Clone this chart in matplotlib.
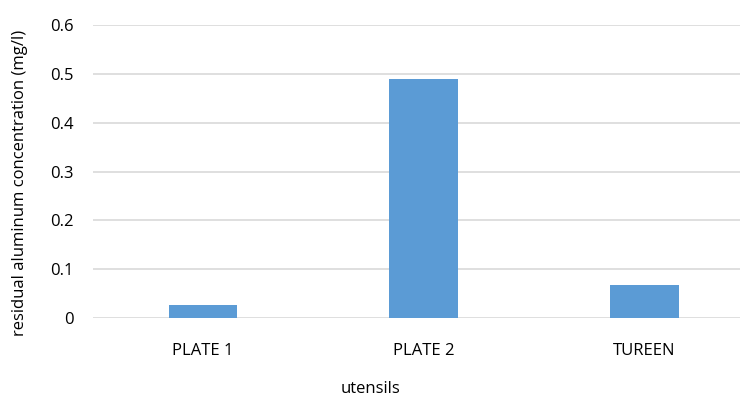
import matplotlib
matplotlib.use("Agg")
import matplotlib.pyplot as plt

categories = ["PLATE 1", "PLATE 2", "TUREEN"]
values = [0.027, 0.49, 0.067]
yticks = [0, 0.1, 0.2, 0.3, 0.4, 0.5, 0.6]
ytick_labels = ["0", "0.1", "0.2", "0.3", "0.4", "0.5", "0.6"]

plt.rcParams["font.family"] = ["Open Sans", "DejaVu Sans"]

fig = plt.figure(figsize=(7.4, 3.98), dpi=100)
ax = fig.add_axes([92.7 / 740, 80 / 398, 662 / 740, 293 / 398])

x = range(len(categories))
ax.bar(x, values, width=0.31, color="#5B9BD5", zorder=3)

ax.set_xlim(-0.5, len(categories) - 0.5)
ax.set_ylim(0, 0.6)
ax.set_yticks(yticks)
ax.set_yticklabels(ytick_labels)
ax.set_xticks(list(x))
ax.set_xticklabels(categories)

ax.grid(axis="y", color="#D9D9D9", linewidth=1.2, zorder=0)
for s in ax.spines.values():
    s.set_visible(False)
ax.tick_params(axis="both", length=0, labelsize=12, colors="#000000")
ax.tick_params(axis="y", pad=14)
ax.tick_params(axis="x", pad=18)

fig.text(370 / 740, 1 - 389 / 398, "utensils", ha="center", va="center", fontsize=12)
fig.text(20 / 740, 1 - 183 / 398, "residual aluminum concentration (mg/l)",
         ha="center", va="center", rotation=90, fontsize=12)

fig.savefig("out.png", dpi=100)
